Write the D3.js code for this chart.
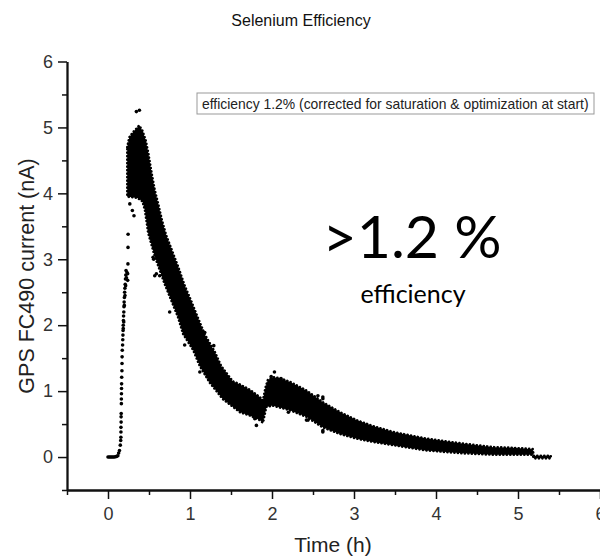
<!DOCTYPE html>
<html>
<head>
<meta charset="utf-8">
<script src="https://cdn.jsdelivr.net/npm/d3@7/dist/d3.min.js"></script>
<style>
  html, body { margin: 0; padding: 0; background: #fff; }
  svg { display: block; }
  .tick text { font-family: "Liberation Sans", Arial, sans-serif; font-size: 18px; fill: #333; }
</style>
</head>
<body>
<svg id="chart" width="600" height="557"></svg>
<script>
// Axis ticks
const timeTicks = [0, 1, 2, 3, 4, 5, 6];
const timeMinor = [-0.5, 0.5, 1.5, 2.5, 3.5, 4.5, 5.5];
const currentTicks = [0, 1, 2, 3, 4, 5, 6];
const currentMinor = [-0.5, 0.5, 1.5, 2.5, 3.5, 4.5, 5.5];

// Baseline and turn-on of the beam current: [time (h), current (nA)]
const risePoints = [
  [0.0, 0.0], [0.015, 0.0], [0.03, 0.0], [0.045, 0.0], [0.06, 0.0], [0.075, 0.0],
  [0.09, 0.005], [0.105, 0.01], [0.12, 0.02], [0.13, 0.06], [0.14, 0.1], [0.15, 0.18],
  [0.155, 0.25], [0.157, 0.30], [0.158, 0.38], [0.158, 0.45], [0.16, 0.53], [0.16, 0.61],
  [0.161, 0.66], [0.163, 0.81], [0.163, 0.88], [0.164, 0.96], [0.165, 1.04], [0.166, 1.11],
  [0.167, 1.21], [0.17, 1.31], [0.171, 1.42], [0.172, 1.52], [0.174, 1.62], [0.178, 1.70],
  [0.18, 1.78], [0.182, 1.85], [0.184, 1.92], [0.186, 2.0], [0.188, 2.07], [0.19, 2.14],
  [0.193, 2.2], [0.195, 2.28], [0.197, 2.35], [0.2, 2.42], [0.203, 2.5], [0.206, 2.56],
  [0.21, 2.62], [0.213, 2.7], [0.217, 2.76], [0.22, 2.83], [0.186, 1.95], [0.192, 2.05],
  [0.199, 2.3], [0.207, 2.45], [0.215, 2.6], [0.225, 2.72], [0.232, 2.8], [0.243, 2.93],
  [0.244, 3.18], [0.245, 3.38], [0.24, 2.68], [0.24, 2.78]
];

// Dense part of the decay: outer edges of the scatter band [time (h), current (nA)]
const upperEdge = [
  [0.235, 4.70], [0.26, 4.85], [0.30, 4.92], [0.345, 4.98], [0.38, 5.03], [0.42, 4.95],
  [0.46, 4.80], [0.49, 4.62], [0.53, 4.32], [0.57, 4.05], [0.61, 3.85], [0.66, 3.58],
  [0.71, 3.36], [0.79, 3.10], [0.86, 2.87], [0.935, 2.60], [1.02, 2.35], [1.10, 2.10],
  [1.18, 1.86], [1.30, 1.60], [1.38, 1.38], [1.52, 1.15], [1.61, 1.10], [1.73, 1.02],
  [1.85, 0.91], [1.89, 0.86], [1.92, 1.05], [1.95, 1.17], [2.01, 1.21], [2.09, 1.20],
  [2.22, 1.14], [2.42, 1.01], [2.62, 0.83], [2.83, 0.68], [3.03, 0.56], [3.23, 0.47],
  [3.48, 0.38], [3.88, 0.28], [4.29, 0.21], [4.70, 0.15], [4.94, 0.14], [5.18, 0.12],
  [5.19, 0.02], [5.40, 0.02]
];
const lowerEdge = [
  [0.235, 3.95], [0.30, 3.94], [0.36, 3.93], [0.42, 3.88], [0.45, 3.75], [0.49, 3.40],
  [0.57, 3.05], [0.69, 2.63], [0.855, 2.12], [0.915, 1.87], [1.04, 1.62], [1.12, 1.38],
  [1.24, 1.13], [1.40, 0.88], [1.61, 0.68], [1.73, 0.63], [1.85, 0.56], [1.89, 0.52],
  [1.93, 0.76], [2.01, 0.78], [2.22, 0.71], [2.42, 0.61], [2.62, 0.45], [2.83, 0.35],
  [3.03, 0.28], [3.23, 0.23], [3.48, 0.18], [3.88, 0.10], [4.29, 0.06], [4.70, 0.035],
  [5.18, 0.035], [5.19, -0.02], [5.40, -0.02]
];

// Scattered readings around the band
const strayPoints = [
  [0.346, 5.24], [0.383, 5.26], [0.266, 3.84], [0.297, 3.74], [0.317, 3.66],
  [0.55, 3.03], [0.557, 3.0], [0.57, 2.75], [0.57, 3.16], [0.59, 2.78], [0.63, 2.75],
  [0.752, 2.2], [0.935, 1.70], [1.12, 1.29], [1.18, 1.89], [1.29, 1.69],
  [1.79, 0.58], [1.81, 0.48], [1.99, 1.22], [2.03, 1.29], [2.11, 1.19],
  [2.2, 0.68], [2.42, 0.56], [2.44, 0.56], [2.56, 0.93], [2.62, 0.885], [2.62, 0.91],
  [2.62, 0.40], [2.62, 0.38], [2.70, 0.45], [3.09, 0.28]
];

const svg = d3.select("#chart");
const plotLeft = 67, plotRight = 600, plotTop = 61.5, plotBottom = 490;

const x = d3.scaleLinear().domain([-0.5, 6]).range([plotLeft, plotRight]);
const y = d3.scaleLinear().domain([-0.5, 6]).range([plotBottom, plotTop]);

// Title
svg.append("text")
  .attr("x", 301).attr("y", 26)
  .attr("text-anchor", "middle")
  .style("font-family", "'Liberation Sans', Arial, sans-serif")
  .style("font-size", "16px").style("fill", "#111")
  .text("Selenium Efficiency");

// Data
const plot = svg.append("g");

const bandLine = d3.line()
  .x(d => x(d[0])).y(d => y(d[1]))
  .curve(d3.curveLinearClosed);
const bandPath = bandLine(upperEdge.concat(lowerEdge.slice().reverse()));

// solid core of the band
plot.append("path")
  .attr("d", bandPath)
  .attr("fill", "#000");
// beaded outline gives the band the grain of individual readings
plot.append("path")
  .attr("d", bandPath)
  .attr("fill", "none")
  .attr("stroke", "#000")
  .attr("stroke-width", 2.6)
  .attr("stroke-linecap", "round")
  .attr("stroke-dasharray", "0.1 3.4");

plot.selectAll("circle.pt")
  .data(risePoints.concat(strayPoints))
  .join("circle")
  .attr("class", "pt")
  .attr("cx", d => x(d[0]))
  .attr("cy", d => y(d[1]))
  .attr("r", 1.8)
  .attr("fill", "#000");

// Axes
const axisColor = "#111";

const yAxis = svg.append("g").attr("transform", `translate(${plotLeft},0)`)
  .call(d3.axisLeft(y).tickValues(currentTicks).tickSize(9).tickSizeOuter(0).tickPadding(5).tickFormat(d3.format("d")));
const yMinor = svg.append("g").attr("transform", `translate(${plotLeft},0)`)
  .call(d3.axisLeft(y).tickValues(currentMinor).tickSize(5).tickSizeOuter(0).tickFormat(""));

const xAxis = svg.append("g").attr("transform", `translate(0,${plotBottom})`)
  .call(d3.axisBottom(x).tickValues(timeTicks).tickSize(9).tickSizeOuter(0).tickPadding(8).tickFormat(d3.format("d")));
const xMinor = svg.append("g").attr("transform", `translate(0,${plotBottom})`)
  .call(d3.axisBottom(x).tickValues(timeMinor).tickSize(5).tickSizeOuter(0).tickFormat(""));

[yAxis, yMinor, xAxis, xMinor].forEach(g => {
  g.selectAll("path.domain").attr("stroke", axisColor).attr("stroke-width", 1.8);
  g.selectAll(".tick line").attr("stroke", axisColor).attr("stroke-width", 1.5);
});

// Axis titles
svg.append("text")
  .attr("transform", "translate(34,276) rotate(-90)")
  .attr("text-anchor", "middle")
  .style("font-family", "'Liberation Sans', Arial, sans-serif")
  .style("font-size", "21.5px").style("fill", "#222")
  .text("GPS FC490 current (nA)");

svg.append("text")
  .attr("x", 333).attr("y", 552)
  .attr("text-anchor", "middle")
  .style("font-family", "'Liberation Sans', Arial, sans-serif")
  .style("font-size", "21px").style("fill", "#222")
  .text("Time (h)");

// Annotation box
const note = svg.append("g");
note.append("rect")
  .attr("x", 197).attr("y", 93).attr("width", 397).attr("height", 21)
  .attr("fill", "#fff").attr("stroke", "#999").attr("stroke-width", 1);
note.append("text")
  .attr("x", 202).attr("y", 108.5)
  .style("font-family", "'Liberation Sans', Arial, sans-serif")
  .style("font-size", "13.9px").style("fill", "#222")
  .text("efficiency 1.2% (corrected for saturation & optimization at start)");

// Headline figure
svg.append("text")
  .attr("x", 412).attr("y", 258)
  .attr("text-anchor", "middle")
  .style("font-family", "Lato, 'Open Sans', sans-serif")
  .style("font-size", "59px").style("fill", "#000")
  .text(">1.2 %");
svg.append("text")
  .attr("x", 413).attr("y", 303)
  .attr("text-anchor", "middle")
  .style("font-family", "Lato, 'Open Sans', sans-serif")
  .style("font-size", "25px").style("fill", "#000")
  .text("efficiency");
</script>
</body>
</html>
